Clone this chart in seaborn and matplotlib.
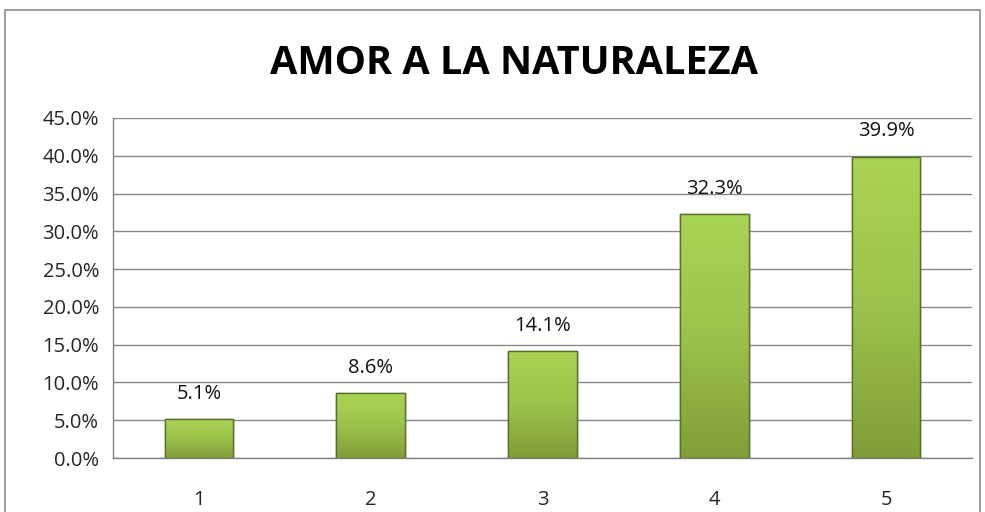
import numpy as np
import pandas as pd
import matplotlib
matplotlib.use("Agg")
import matplotlib.pyplot as plt
import seaborn as sns
from matplotlib.colors import LinearSegmentedColormap
from matplotlib.patches import Rectangle

categories = ["1", "2", "3", "4", "5"]
values = [5.1, 8.6, 14.1, 32.3, 39.9]
labels = ["5.1%", "8.6%", "14.1%", "32.3%", "39.9%"]
title = "AMOR A LA NATURALEZA"

sns.set_style("white")
plt.rcParams['font.family'] = ['Open Sans', 'DejaVu Sans']

fig = plt.figure(figsize=(9.85, 5.12), dpi=100)
ax = fig.add_axes([113/985, 1-458/512, (972-113)/985, (458-118)/512])

df = pd.DataFrame({"cat": categories, "val": values})
sns.barplot(data=df, x="cat", y="val", ax=ax, width=0.4, color="#9bbb59",
            edgecolor="#5a7228", linewidth=1.0, zorder=3)

cmap = LinearSegmentedColormap.from_list("g", ["#aad455", "#9cc24b", "#7f9e38"])
grad = np.linspace(0, 1, 256).reshape(-1, 1)
for p in list(ax.patches):
    x0, y0 = p.get_x(), p.get_y()
    w, h = p.get_width(), p.get_height()
    im = ax.imshow(grad, cmap=cmap, aspect="auto", extent=(x0, x0 + w, y0, y0 + h),
                   origin="upper", zorder=3.5)
    im.set_clip_path(p)
    ax.add_patch(Rectangle((x0, y0), w, h, fill=False, edgecolor="#55702a",
                           linewidth=1.0, zorder=4))

ax.set_xlim(-0.5, 4.5)
ax.set_ylim(0, 45)
ax.set_yticks(np.arange(0, 46, 5))
ax.set_yticklabels([f"{v:.1f}%" for v in np.arange(0, 46, 5)], fontsize=14.5)
ax.set_xticks(range(5))
ax.set_xticklabels(categories, fontsize=14.5)
ax.set_xticks(np.arange(-0.5, 5, 1), minor=True)
ax.tick_params(axis="x", which="major", length=0, pad=23)
ax.tick_params(axis="x", which="minor", length=6, color="#808080", width=1, direction="out")
ax.tick_params(axis="y", length=6, color="#808080", width=1, direction="out", pad=4)
ax.set_xlabel("")
ax.set_ylabel("")
ax.grid(axis="y", color="#888888", linewidth=1, zorder=0)
ax.set_axisbelow(True)
for s in ["top", "right"]:
    ax.spines[s].set_visible(False)
for s in ["left", "bottom"]:
    ax.spines[s].set_color("#808080")
    ax.spines[s].set_linewidth(1)

for i, (v, t) in enumerate(zip(values, labels)):
    ax.annotate(t, (i, v), xytext=(0, 11), textcoords="offset points",
                ha="center", va="bottom", fontsize=14.5, color="#111111", zorder=5)

fig.text(514/985, 1-64/512, title, ha="center", va="center", fontsize=28.5,
         fontweight="bold", color="black")

fig.patches.append(Rectangle((5/985, -0.01), 975/985, 1 - 10/512 + 0.01,
                             transform=fig.transFigure, fill=False,
                             edgecolor="#8c8c8c", linewidth=1.2))

fig.savefig("out.png", dpi=100)
